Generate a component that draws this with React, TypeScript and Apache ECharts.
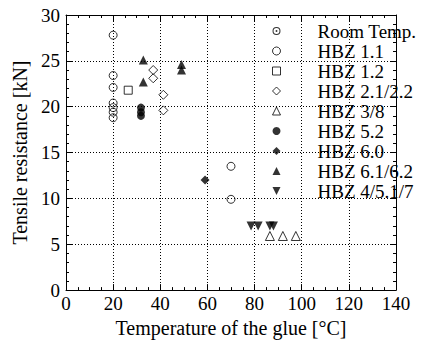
import React, { useEffect, useRef } from "react";
import * as echarts from "echarts";

const FONT = "'Liberation Serif', 'DejaVu Serif', serif";

const xTicks = [0, 20, 40, 60, 80, 100, 120, 140];
const yTicks = [0, 5, 10, 15, 20, 25, 30];

const seriesNames = [
  "Room Temp.",
  "HBZ 1.1",
  "HBZ 1.2",
  "HBZ 2.1/2.2",
  "HBZ 3/8",
  "HBZ 5.2",
  "HBZ 6.0",
  "HBZ 6.1/6.2",
  "HBZ 4/5.1/7",
];

const roomTemp = [
  [20, 27.8],
  [20, 23.4],
  [20, 22.1],
  [20, 20.4],
  [20, 19.9],
  [20, 19.4],
  [20, 18.8],
];
const hbz11 = [
  [70, 13.5],
  [70, 9.9],
];
const hbz12 = [[26.4, 21.8]];
const hbz21 = [
  [37, 24.0],
  [37, 23.1],
  [41.3, 21.3],
  [41.3, 19.6],
];
const hbz38 = [
  [86.5, 5.9],
  [92, 5.9],
  [97.5, 5.9],
];
const hbz52 = [
  [31.8, 19.9],
  [31.8, 19.4],
  [31.8, 19.0],
];
const hbz60 = [[59, 12]];
const hbz61 = [
  [32.8, 25.1],
  [32.8, 22.7],
  [49, 24.6],
  [49, 24.0],
];
const hbz4 = [
  [78.5, 7],
  [81.5, 7],
  [86.5, 7],
  [88, 7],
];

const seriesData = [roomTemp, hbz11, hbz12, hbz21, hbz38, hbz52, hbz60, hbz61, hbz4];

const OPEN = { color: "rgba(0,0,0,0)", borderColor: "#000", borderWidth: 1 };
const FILLED = { color: "#000", borderColor: "#000", borderWidth: 0 };

const seriesStyle = [
  { symbol: "circle", size: 8, style: OPEN },
  { symbol: "circle", size: 8, style: OPEN },
  { symbol: "rect", size: 8, style: OPEN },
  { symbol: "diamond", size: 9, style: OPEN },
  { symbol: "triangle", size: 9, style: OPEN },
  { symbol: "circle", size: 8, style: FILLED },
  { symbol: "diamond", size: 9, style: FILLED },
  { symbol: "triangle", size: 9, style: FILLED },
  { symbol: "path://M0,0L10,0L5,10Z", size: 9, style: FILLED },
];

const ROOM_ICON =
  "path://M0,5A5,5,0,1,1,10,5A5,5,0,1,1,0,5ZM1.3,5A3.7,3.7,0,1,0,8.7,5A3.7,3.7,0,1,0,1.3,5ZM3.8,5A1.2,1.2,0,1,1,6.2,5A1.2,1.2,0,1,1,3.8,5Z";

export default function App() {
  const ref = useRef<HTMLDivElement>(null);

  useEffect(() => {
    document.body.style.margin = "0";
    if (!ref.current) return;
    const chart = echarts.init(ref.current, null, { renderer: "svg" });

    const axisCommon = {
      type: "value" as const,
      axisLine: { show: true, onZero: false, lineStyle: { color: "#000", width: 1 } },
      axisTick: { show: true, inside: true, length: 6, lineStyle: { color: "#000", width: 1 } },
      minorTick: { show: true, length: 3, lineStyle: { color: "#000", width: 1 } },
    };

    const labelStyle = { color: "#000", fontSize: 19, fontFamily: FONT };
    const titleStyle = { color: "#000", fontSize: 20, fontFamily: FONT };

    chart.setOption({
      animation: false,
      backgroundColor: "#fff",
      grid: { left: 66, right: 31, top: 15, bottom: 51, containLabel: false },
      xAxis: [
        {
          ...axisCommon,
          position: "bottom",
          min: xTicks[0],
          max: xTicks[xTicks.length - 1],
          interval: xTicks[1] - xTicks[0],
          minorTick: { ...axisCommon.minorTick, splitNumber: 4 },
          splitLine: { show: true, lineStyle: { color: "#000", width: 1, type: [1, 2] } },
          axisLabel: { ...labelStyle, margin: 4 },
          name: "Temperature of the glue [°C]",
          nameLocation: "middle",
          nameGap: 26,
          nameTextStyle: { ...titleStyle },
        },
        {
          ...axisCommon,
          position: "top",
          min: xTicks[0],
          max: xTicks[xTicks.length - 1],
          interval: xTicks[1] - xTicks[0],
          minorTick: { ...axisCommon.minorTick, splitNumber: 4 },
          splitLine: { show: false },
          axisLabel: { show: false },
        },
      ],
      yAxis: [
        {
          ...axisCommon,
          position: "left",
          min: yTicks[0],
          max: yTicks[yTicks.length - 1],
          interval: yTicks[1] - yTicks[0],
          minorTick: { ...axisCommon.minorTick, splitNumber: 5 },
          splitLine: { show: true, lineStyle: { color: "#000", width: 1, type: [1, 2] } },
          axisLabel: { ...labelStyle, margin: 6 },
          name: "Tensile resistance [kN]",
          nameLocation: "middle",
          nameGap: 36,
          nameTextStyle: { ...titleStyle },
        },
        {
          ...axisCommon,
          position: "right",
          min: yTicks[0],
          max: yTicks[yTicks.length - 1],
          interval: yTicks[1] - yTicks[0],
          minorTick: { ...axisCommon.minorTick, splitNumber: 5 },
          splitLine: { show: false },
          axisLabel: { show: false },
        },
      ],
      legend: {
        orient: "vertical",
        left: 272,
        top: 21,
        padding: 0,
        itemWidth: 8,
        itemHeight: 8,
        itemGap: 0,
        selectedMode: false,
        textStyle: {
          color: "#000",
          fontSize: 19,
          fontFamily: FONT,
          lineHeight: 20,
          padding: [0, 0, 0, 32],
        },
        data: seriesNames.map((name, i) => {
          const s = seriesStyle[i];
          if (i === 0) {
            return { name, icon: ROOM_ICON, itemStyle: { color: "#000", borderWidth: 0 } };
          }
          return {
            name,
            icon: s.symbol,
            itemStyle: { ...s.style },
          };
        }),
      },
      series: seriesNames.map((name, i) => ({
        name,
        type: "scatter",
        xAxisIndex: 0,
        yAxisIndex: 0,
        symbol: seriesStyle[i].symbol,
        symbolSize: seriesStyle[i].size,
        itemStyle: { ...seriesStyle[i].style },
        data: seriesData[i],
        silent: true,
        z: 3,
      })),
    });

    return () => chart.dispose();
  }, []);

  return (
    <div
      ref={ref}
      style={{ position: "absolute", left: 0, top: 0, width: 427, height: 343 }}
    />
  );
}
